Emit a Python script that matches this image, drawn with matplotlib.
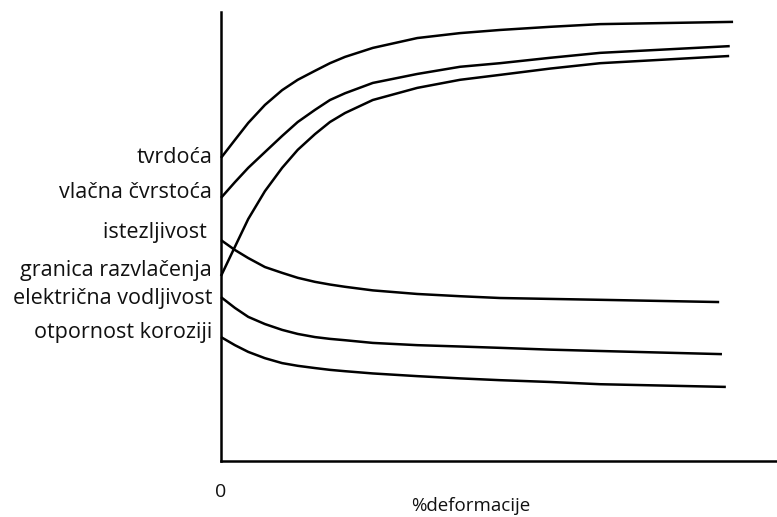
"""Schematic: property changes versus % cold deformation."""

import matplotlib

matplotlib.use("Agg")
import matplotlib.pyplot as plt

# values, x = % deformacije, y = relative property level (0..100)
x_common = [0, 2.5, 4.9, 7.9, 11.0, 13.8, 16.9, 19.6, 22.3, 27.3, 35.3, 43.0, 50.2, 59.2, 68.2]

tvrdoca_x = x_common + [92.1]
tvrdoca_y = [67.5, 71.5, 75.3, 79.3, 82.6, 84.9, 86.9, 88.6, 90.0, 92.0, 94.2, 95.3, 96.0, 96.7, 97.3, 97.8]

vlacna_x = x_common + [91.5]
vlacna_y = [58.6, 62.1, 65.3, 68.8, 72.4, 75.5, 78.2, 80.4, 81.9, 84.2, 86.2, 87.8, 88.6, 89.8, 90.9, 92.4]

granica_x = x_common + [91.4]
granica_y = [41.2, 47.7, 53.9, 60.1, 65.3, 69.3, 72.8, 75.5, 77.5, 80.4, 83.1, 84.9, 86.0, 87.4, 88.6, 90.2]

istezljivost_x = x_common + [89.6]
istezljivost_y = [49.2, 47.0, 45.2, 43.2, 41.9, 40.8, 39.9, 39.3, 38.8, 38.0, 37.2, 36.7, 36.3, 36.1, 35.9, 35.4]

vodljivost_x = x_common + [90.1]
vodljivost_y = [36.5, 34.1, 32.1, 30.5, 29.2, 28.3, 27.6, 27.2, 26.9, 26.3, 25.8, 25.5, 25.2, 24.8, 24.5, 23.8]

korozija_x = x_common + [90.8]
korozija_y = [27.6, 25.8, 24.3, 22.9, 21.8, 21.2, 20.7, 20.3, 20.0, 19.5, 18.9, 18.4, 18.0, 17.6, 17.1, 16.5]

labels = [
    "tvrdoća",
    "vlačna čvrstoća",
    "istezljivost ",
    "granica razvlačenja",
    "električna vodljivost",
    "otpornost koroziji",
]
label_y = [67.7, 59.7, 50.8, 42.5, 36.3, 28.7]

plt.rcParams["font.family"] = ["Open Sans", "DejaVu Sans"]

fig = plt.figure(figsize=(7.77, 5.17), dpi=100)
ax = fig.add_axes([221 / 777, 56 / 517, 556 / 777, 449 / 517])
ax.set_xlim(0, 100)
ax.set_ylim(0, 100)

series = [
    (tvrdoca_x, tvrdoca_y),
    (vlacna_x, vlacna_y),
    (granica_x, granica_y),
    (istezljivost_x, istezljivost_y),
    (vodljivost_x, vodljivost_y),
    (korozija_x, korozija_y),
]
for xs, ys in series:
    ax.plot(xs, ys, color="black", linewidth=1.8, solid_capstyle="butt",
            solid_joinstyle="round", clip_on=False)

for text, y in zip(labels, label_y):
    ax.text(-1.6, y, text, ha="right", va="center", fontsize=15.5, color="#111111")

ax.text(0, -6.9, "0", ha="center", va="center", fontsize=14, color="#111111")
ax.text(44.9, -10.0, "%deformacije", ha="center", va="center", fontsize=13.5, color="#111111")

for side in ("top", "right"):
    ax.spines[side].set_visible(False)
for side in ("left", "bottom"):
    ax.spines[side].set_linewidth(1.8)
ax.set_xticks([])
ax.set_yticks([])

fig.savefig("out.png", dpi=100)
